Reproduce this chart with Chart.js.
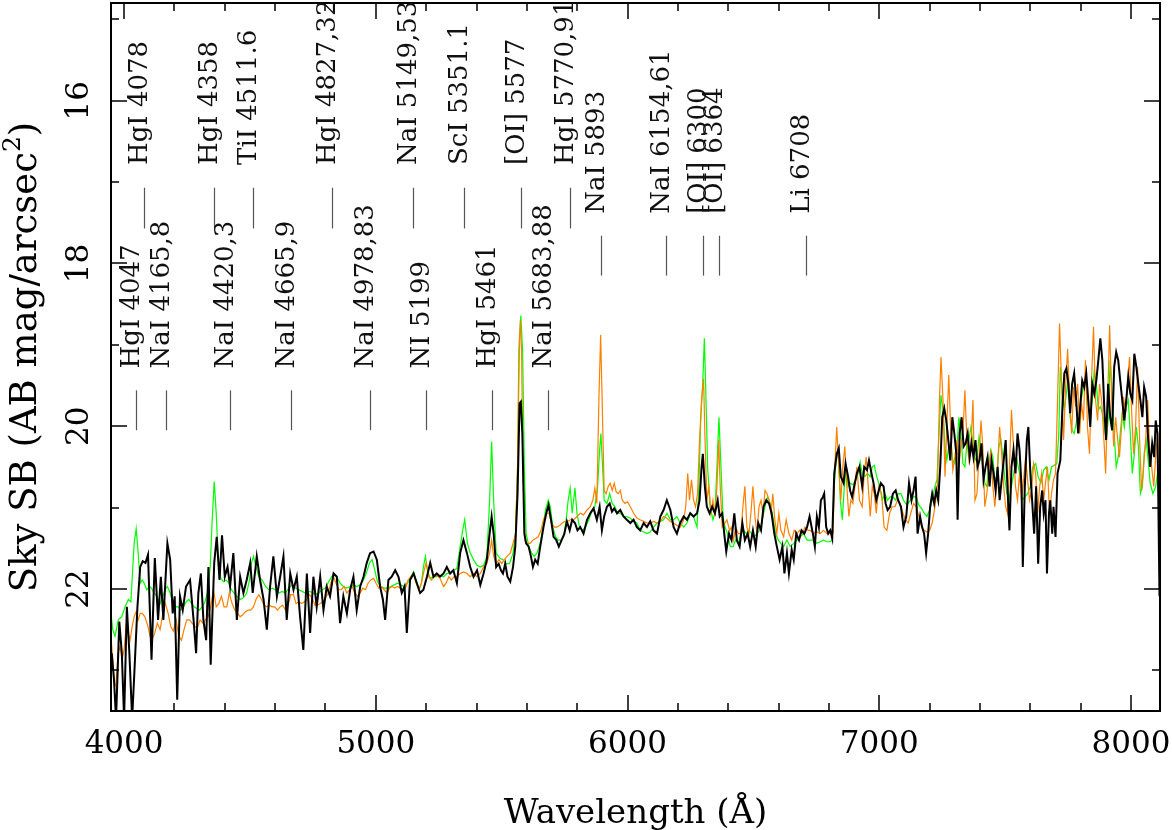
<!DOCTYPE html>
<html>
<head>
<meta charset="utf-8">
<title>Sky SB spectrum</title>
<script src="https://cdn.jsdelivr.net/npm/chart.js@4.4.1/dist/chart.umd.min.js"></script>
<style>
  html, body { margin: 0; padding: 0; background: #fff; }
  #wrap { width: 1172px; height: 830px; }
</style>
</head>
<body>
<div id="wrap"><canvas id="sky" width="1172" height="830"></canvas></div>
<script>
// ---- spectra (wavelength in A, surface brightness in AB mag/arcsec^2) ----
const blackWl = [
  3951,3960,3968,3981,3991,4000,4011,4021,4032,4042,4053,4064,4074,4085,4095,4109,4122,4135,4146,4156,
  4172,4183,4193,4201,4211,4222,4233,4246,4262,4276,4286,4295,4305,4315,4326,4335,4344,4358,4368,4379,
  4389,4400,4411,4421,4434,4448,4461,4474,4487,4501,4511,4527,4540,4554,4567,4580,4593,4607,4620,4633,
  4646,4660,4673,4686,4699,4712,4726,4739,4752,4765,4779,4792,4805,4818,4832,4845,4858,4871,4885,4898,
  4911,4924,4938,4951,4964,4977,4991,5004,5017,5028,5037,5050,5063,5077,5090,5103,5114,5123,5136,5150,
  5163,5176,5189,5203,5216,5229,5242,5255,5269,5282,5295,5308,5322,5335,5348,5362,5375,5388,5402,5415,
  5428,5441,5452,5460,5468,5478,5488,5497,5505,5514,5523,5534,5545,5554,5563,5571,5576,5582,5590,5597,
  5607,5616,5624,5633,5643,5653,5666,5677,5686,5696,5706,5717,5727,5738,5749,5759,5770,5780,5791,5801,
  5812,5825,5839,5852,5865,5878,5889,5898,5907,5918,5929,5938,5947,5958,5971,5984,5997,6011,6024,6037,
  6050,6064,6077,6090,6103,6117,6130,6143,6156,6170,6183,6196,6209,6223,6236,6249,6262,6276,6286,6294,
  6299,6307,6315,6326,6336,6347,6358,6366,6376,6384,6392,6403,6413,6424,6434,6445,6456,6466,6477,6487,
  6498,6509,6519,6530,6540,6551,6562,6572,6583,6593,6604,6615,6623,6633,6641,6652,6660,6670,6681,6691,
  6702,6713,6723,6736,6744,6752,6760,6768,6776,6781,6789,6797,6805,6813,6821,6831,6839,6847,6858,6866,
  6876,6884,6892,6900,6911,6921,6932,6940,6951,6959,6969,6977,6988,6998,7006,7017,7025,7033,7043,7054,
  7065,7075,7086,7096,7107,7118,7128,7136,7144,7152,7162,7170,7178,7186,7194,7202,7210,7218,7226,7234,
  7242,7250,7258,7266,7274,7282,7290,7298,7306,7311,7319,7327,7335,7343,7351,7359,7366,7374,7382,7390,
  7398,7406,7414,7422,7430,7438,7446,7454,7462,7470,7478,7486,7494,7502,7509,7517,7525,7533,7541,7549,
  7557,7565,7570,7578,7586,7592,7600,7607,7615,7623,7631,7639,7647,7653,7660,7666,7674,7679,7687,7692,
  7700,7708,7719,7727,7735,7743,7751,7758,7766,7774,7782,7790,7798,7806,7814,7822,7830,7838,7846,7854,
  7862,7870,7878,7886,7894,7901,7909,7917,7925,7933,7941,7949,7957,7965,7973,7981,7989,7997,8005,8013,
  8021,8029,8037,8045,8052,8060,8068,8076,8084,8092,8098,8105,8113
];
const blackMag = [
  22.79,23.12,23.60,22.40,22.79,23.60,22.22,22.79,23.60,22.95,22.22,21.73,21.66,21.68,21.58,22.87,21.62,22.38,21.85,22.38,
  21.44,21.64,22.30,22.09,23.36,22.09,22.26,21.97,21.89,22.38,22.79,22.05,21.81,22.38,22.63,21.73,22.93,21.68,21.36,21.89,
  21.34,21.85,21.73,21.97,21.56,22.38,21.85,22.05,21.89,21.68,22.05,21.60,21.89,22.13,22.50,21.97,21.60,22.09,21.85,21.60,
  22.38,21.81,22.01,21.85,22.34,22.75,21.81,22.54,21.85,22.22,21.85,22.26,21.97,22.09,21.81,21.85,22.42,22.09,22.30,22.01,
  21.85,22.26,21.97,21.85,21.68,21.56,21.54,21.64,21.97,22.13,22.38,21.89,21.85,21.77,21.85,22.05,21.97,22.54,21.89,21.81,
  21.93,22.05,22.01,21.85,21.68,21.85,21.81,21.85,21.81,21.73,21.81,21.77,21.93,21.56,21.40,21.56,21.73,21.85,21.77,21.95,
  21.81,21.64,21.32,21.11,21.32,21.73,21.69,21.77,21.81,21.69,21.85,21.91,21.73,21.48,20.83,19.72,19.70,20.09,21.32,21.44,
  21.48,21.60,21.73,21.64,21.69,21.48,21.24,21.07,20.97,21.15,21.36,21.40,21.48,21.40,21.32,21.17,21.28,21.15,21.19,21.28,
  21.24,21.32,21.15,21.07,21.01,21.15,20.99,21.28,21.11,20.99,20.95,21.05,21.01,21.07,21.03,21.11,21.15,21.19,21.15,21.24,
  21.28,21.19,21.24,21.17,21.28,21.32,21.11,21.03,20.91,21.03,21.24,21.32,21.19,21.11,21.15,21.07,21.11,21.07,20.91,20.50,
  20.34,20.74,20.99,21.07,20.99,21.07,20.91,21.11,21.07,21.32,21.54,21.32,21.40,21.07,21.40,21.48,21.19,21.40,21.32,21.48,
  21.28,21.48,21.19,21.28,20.99,20.91,20.95,21.07,21.32,21.48,21.64,21.48,21.81,21.56,21.81,21.52,21.64,21.32,21.40,21.28,
  21.32,21.24,21.11,21.32,21.48,21.11,21.24,20.91,20.87,20.83,21.24,21.32,21.28,21.38,20.58,20.34,20.27,20.62,20.70,20.46,
  20.62,20.79,20.87,20.74,20.58,20.50,20.74,20.50,20.54,20.42,20.58,20.70,20.91,20.79,20.70,20.74,20.95,21.03,20.99,20.83,
  20.79,20.91,20.99,21.24,21.11,20.70,20.91,20.79,20.62,21.32,21.11,21.24,21.32,21.56,21.32,20.99,20.83,20.95,20.79,20.91,
  20.50,19.89,19.78,19.93,20.17,20.42,19.89,20.09,20.34,21.15,20.09,19.89,20.25,20.21,20.09,20.38,20.21,20.38,20.17,20.50,
  20.42,20.21,20.66,20.50,20.38,20.74,20.42,20.58,20.79,20.50,20.91,20.66,20.42,20.17,20.74,21.28,20.50,20.29,20.58,20.09,
  20.29,20.74,21.73,20.74,20.17,20.01,20.58,20.91,21.32,20.74,21.69,20.99,20.79,21.07,20.91,21.81,21.07,20.91,21.32,20.99,
  21.36,20.58,20.42,19.80,19.35,19.29,19.48,19.84,19.48,19.35,19.68,20.09,19.76,19.44,19.52,19.35,19.68,20.01,19.48,19.60,
  19.44,19.19,18.92,19.19,19.80,20.17,19.48,19.89,20.05,19.27,19.09,19.19,19.44,19.68,19.93,19.68,19.39,19.60,19.68,19.11,
  19.27,19.48,19.68,19.89,19.52,19.64,20.17,20.50,20.21,20.38,19.93,20.09,22.09
];

const greenWl = [
  3948,3955,3964,3977,3991,4004,4017,4027,4034,4040,4048,4056,4064,4072,4080,4090,4101,4109,4119,4130,
  4143,4154,4163,4172,4183,4193,4204,4215,4225,4236,4246,4257,4268,4278,4289,4299,4310,4321,4331,4342,
  4350,4358,4366,4374,4384,4395,4405,4416,4426,4437,4448,4461,4474,4487,4498,4506,4514,4524,4535,4548,
  4562,4575,4588,4601,4615,4628,4641,4654,4667,4681,4694,4707,4720,4734,4747,4760,4773,4787,4800,4813,
  4824,4834,4845,4858,4871,4885,4898,4911,4924,4938,4951,4964,4975,4985,4996,5006,5020,5033,5046,5059,
  5073,5086,5099,5112,5126,5139,5150,5160,5171,5181,5189,5197,5205,5216,5229,5242,5255,5269,5282,5295,
  5308,5322,5335,5345,5353,5364,5375,5388,5402,5415,5428,5441,5452,5460,5468,5478,5492,5505,5518,5531,
  5545,5555,5563,5570,5576,5583,5590,5597,5608,5619,5629,5640,5653,5664,5674,5685,5693,5703,5714,5725,
  5735,5746,5756,5764,5772,5780,5791,5799,5809,5820,5833,5846,5860,5870,5881,5889,5894,5899,5907,5918,
  5929,5939,5950,5960,5971,5984,5997,6011,6024,6037,6050,6064,6077,6090,6103,6117,6130,6143,6156,6170,
  6183,6196,6209,6223,6236,6249,6262,6276,6283,6291,6299,6305,6310,6318,6328,6339,6347,6355,6363,6371,
  6379,6387,6397,6408,6419,6429,6440,6450,6461,6472,6482,6493,6503,6514,6525,6535,6546,6556,6567,6577,
  6588,6599,6609,6620,6633,6646,6660,6673,6686,6699,6713,6726,6739,6752,6765,6778,6792,6805,6813,6821,
  6829,6837,6845,6853,6861,6869,6876,6884,6895,6906,6916,6924,6932,6943,6953,6964,6972,6980,6990,7001,
  7012,7022,7033,7043,7054,7065,7075,7086,7096,7110,7123,7136,7147,7157,7168,7178,7189,7200,7210,7221,
  7229,7237,7245,7253,7261,7268,7276,7284,7292,7300,7308,7316,7324,7332,7340,7348,7356,7364,7372,7380,
  7388,7396,7404,7411,7419,7427,7435,7443,7451,7459,7467,7475,7483,7491,7499,7507,7515,7525,7536,7547,
  7557,7568,7578,7589,7600,7610,7621,7631,7642,7653,7663,7674,7684,7695,7705,7713,7719,7727,7735,7743,
  7751,7758,7766,7774,7782,7790,7798,7806,7814,7822,7830,7838,7846,7854,7862,7870,7878,7886,7894,7901,
  7909,7917,7925,7933,7941,7949,7957,7965,7973,7981,7989,7997,8005,8013,8021,8029,8037,8045,8052,8060,
  8068,8076,8087,8098,8105,8113
];
const greenMag = [
  22.30,22.50,22.58,22.38,22.34,22.22,22.13,22.16,21.77,21.44,21.26,21.56,21.93,21.89,21.93,22.01,21.97,21.99,22.05,22.09,
  22.18,22.09,22.01,21.97,22.05,22.16,22.22,22.22,22.26,22.22,22.16,22.13,22.18,22.22,22.24,22.26,22.22,22.16,22.05,21.73,
  21.15,20.68,21.07,21.64,21.87,21.91,21.89,21.93,22.01,22.05,22.09,22.13,22.11,22.05,21.89,21.68,21.60,21.73,21.85,21.89,
  21.97,22.01,21.99,22.01,22.05,22.03,22.05,21.99,21.95,21.99,22.01,22.03,22.05,22.03,22.04,22.07,22.05,22.01,21.99,21.91,
  21.85,21.81,21.85,21.93,21.97,21.99,21.97,21.95,21.97,21.95,21.89,21.79,21.68,21.64,21.77,21.91,21.97,21.99,21.99,21.97,
  21.95,21.93,21.95,21.97,21.93,21.85,21.79,21.89,22.01,21.93,21.73,21.60,21.77,21.87,21.85,21.85,21.83,21.85,21.81,21.81,
  21.77,21.75,21.48,21.28,21.15,21.44,21.56,21.64,21.71,21.73,21.71,21.60,20.91,20.19,20.91,21.56,21.62,21.64,21.69,21.69,
  21.56,21.32,20.50,19.07,18.64,19.07,20.50,21.32,21.48,21.56,21.60,21.56,21.44,21.24,21.03,20.91,20.99,21.24,21.36,21.40,
  21.40,21.36,21.15,20.91,20.76,21.07,20.76,21.07,21.24,21.28,21.24,21.15,21.03,20.99,20.74,20.29,20.09,20.38,20.91,20.95,
  20.83,20.95,20.99,21.07,21.07,21.11,21.11,21.13,21.17,21.19,21.28,21.30,21.32,21.30,21.24,21.19,21.17,21.15,21.07,21.15,
  21.15,21.11,21.19,21.24,21.19,21.07,21.11,21.24,20.74,19.89,19.44,18.92,19.48,20.50,20.99,21.15,21.07,20.50,19.89,20.50,
  21.11,21.24,21.32,21.48,21.48,21.40,21.44,21.32,21.28,21.32,21.28,21.32,21.36,21.32,21.28,21.15,20.99,20.87,20.95,21.11,
  21.32,21.40,21.44,21.48,21.40,21.48,21.44,21.40,21.36,21.32,21.40,21.40,21.40,21.44,21.42,21.40,21.42,21.42,21.40,20.74,
  20.38,20.34,20.91,21.15,20.74,20.50,20.74,20.70,20.72,20.66,20.58,20.44,20.58,20.62,20.58,20.62,20.50,20.48,20.62,20.74,
  20.91,20.83,20.91,20.87,20.87,20.91,20.83,20.83,20.91,20.97,20.91,20.87,20.87,20.97,21.01,21.07,21.11,21.03,20.91,20.74,
  20.66,20.09,19.62,19.80,20.25,20.42,20.25,20.21,20.42,20.46,20.29,19.89,20.09,20.46,20.50,20.21,20.17,20.01,20.21,20.42,
  20.38,20.13,20.25,20.54,20.70,20.74,20.50,20.29,20.38,20.66,20.62,20.25,20.17,20.38,20.66,20.83,20.91,20.74,20.54,20.42,
  20.58,20.91,20.87,20.83,20.74,20.50,20.46,20.62,20.70,20.54,20.50,20.66,20.50,20.48,20.46,20.09,19.27,19.60,19.80,19.60,
  19.39,19.89,20.05,20.09,19.97,19.84,19.76,19.60,19.48,19.39,19.76,19.84,19.68,19.31,19.48,19.80,19.76,19.84,20.01,20.17,
  19.93,19.19,19.60,20.09,20.50,20.38,20.09,19.84,20.01,19.76,19.68,20.09,20.58,20.34,20.01,20.25,20.83,20.74,20.34,20.17,
  20.42,20.70,20.83,20.74,20.58,20.95
];

const orangeWl = [
  3948,3955,3963,3968,3976,3984,3992,4000,4008,4016,4024,4032,4040,4048,4056,4064,4072,4082,4093,4103,
  4111,4122,4132,4143,4154,4164,4175,4185,4196,4207,4217,4228,4238,4249,4260,4270,4281,4291,4302,4313,
  4323,4334,4344,4355,4366,4376,4387,4397,4408,4418,4429,4440,4450,4461,4471,4482,4493,4503,4514,4524,
  4535,4546,4556,4567,4577,4588,4599,4609,4620,4630,4641,4652,4662,4673,4683,4694,4705,4715,4726,4736,
  4747,4758,4768,4779,4789,4800,4811,4821,4832,4842,4853,4863,4874,4885,4895,4906,4916,4927,4938,4948,
  4959,4969,4980,4991,5001,5012,5022,5033,5044,5054,5065,5075,5086,5097,5107,5118,5128,5139,5150,5160,
  5171,5181,5192,5200,5210,5221,5232,5242,5255,5269,5279,5290,5300,5311,5322,5335,5348,5362,5375,5388,
  5402,5415,5428,5441,5452,5460,5468,5478,5489,5500,5510,5521,5534,5545,5555,5563,5568,5574,5579,5584,
  5592,5603,5613,5624,5635,5645,5656,5666,5677,5688,5698,5709,5719,5730,5741,5751,5762,5772,5786,5799,
  5812,5825,5839,5852,5862,5870,5878,5886,5893,5899,5907,5915,5923,5931,5939,5947,5955,5963,5971,5979,
  5990,6000,6011,6024,6037,6050,6064,6077,6090,6103,6117,6130,6143,6156,6170,6183,6196,6209,6223,6231,
  6239,6246,6254,6262,6270,6278,6286,6294,6302,6307,6315,6323,6331,6339,6347,6355,6362,6368,6376,6387,
  6395,6405,6413,6421,6429,6440,6450,6458,6466,6474,6482,6490,6498,6506,6514,6522,6530,6538,6546,6554,
  6562,6570,6577,6585,6593,6601,6609,6620,6630,6641,6652,6662,6673,6683,6694,6705,6718,6726,6739,6752,
  6765,6778,6792,6805,6816,6823,6831,6839,6847,6855,6863,6871,6879,6887,6895,6903,6911,6921,6932,6940,
  6948,6956,6964,6972,6980,6988,6998,7009,7019,7030,7041,7051,7062,7072,7083,7094,7104,7115,7125,7136,
  7147,7157,7168,7178,7189,7200,7210,7221,7231,7239,7245,7253,7261,7268,7276,7284,7292,7300,7308,7316,
  7324,7332,7340,7348,7356,7364,7372,7380,7388,7396,7404,7411,7419,7427,7435,7443,7451,7459,7470,7478,
  7486,7494,7502,7509,7517,7525,7533,7541,7549,7557,7565,7573,7581,7589,7597,7605,7613,7621,7629,7637,
  7645,7653,7660,7668,7676,7684,7692,7700,7708,7716,7724,7732,7740,7748,7756,7764,7772,7780,7788,7796,
  7803,7811,7819,7827,7835,7843,7851,7859,7867,7875,7883,7891,7899,7907,7915,7923,7931,7939,7947,7954,
  7962,7970,7978,7986,7994,8002,8010,8018,8026,8034,8042,8050,8058,8066,8074,8082,8090,8098,8105,8113
];
const orangeMag = [
  22.58,22.87,23.20,23.16,22.79,22.71,22.87,22.75,22.46,22.54,22.63,22.46,22.34,22.28,22.38,22.30,22.30,22.34,22.44,22.58,
  22.63,22.54,22.42,22.50,22.30,22.18,22.30,22.46,22.52,22.38,22.58,22.63,22.50,22.38,22.38,22.42,22.46,22.48,22.38,22.42,
  22.38,22.34,22.22,22.01,22.22,22.18,22.09,22.22,22.22,22.05,22.18,22.26,22.30,22.34,22.32,22.28,22.26,22.26,22.22,22.13,
  22.07,22.13,22.20,22.22,22.20,22.22,22.22,22.26,22.22,22.20,22.26,22.20,22.07,22.07,22.18,22.16,22.18,22.16,22.13,22.07,
  22.11,22.20,22.20,22.18,22.16,22.11,22.05,21.93,21.85,21.93,22.01,22.01,21.97,22.05,22.01,21.97,22.05,22.09,22.05,21.99,
  22.01,21.93,21.89,21.87,21.93,21.99,21.97,22.01,22.05,21.99,21.97,21.99,21.97,21.99,22.01,21.99,21.89,21.85,21.81,21.93,
  22.01,21.93,21.77,21.68,21.85,21.89,21.85,21.83,21.87,21.97,21.93,21.85,21.89,21.85,21.85,21.81,21.79,21.81,21.85,21.81,
  21.85,21.81,21.73,21.69,21.56,21.40,21.60,21.69,21.64,21.69,21.64,21.60,21.56,21.44,21.32,20.50,19.07,18.70,19.07,20.50,
  21.40,21.44,21.44,21.40,21.38,21.36,21.28,21.15,21.07,21.07,21.19,21.24,21.24,21.22,21.19,21.17,21.17,21.15,21.15,21.11,
  21.07,21.09,21.03,20.99,20.91,20.76,20.95,19.68,18.88,19.68,20.79,20.83,20.74,20.70,20.79,20.70,20.81,20.83,20.79,20.91,
  20.95,20.93,20.99,21.07,21.13,21.15,21.17,21.19,21.19,21.17,21.19,21.17,21.11,21.13,21.17,21.19,21.22,21.24,21.15,20.99,
  20.58,20.91,20.66,20.91,20.99,20.83,20.17,19.68,19.42,20.09,20.91,20.74,21.07,20.91,21.11,20.74,20.17,20.74,21.24,21.19,
  21.15,21.28,21.24,21.40,21.24,21.32,21.32,20.99,20.74,21.24,21.32,21.07,20.74,21.11,21.32,20.99,20.91,21.07,20.79,20.83,
  20.91,21.07,20.83,21.15,21.32,21.07,21.28,21.36,21.15,21.32,21.40,21.28,21.32,21.28,21.32,21.24,21.28,21.28,21.32,21.30,
  21.32,21.28,21.32,21.32,21.32,20.50,20.01,20.50,20.91,20.50,20.25,20.74,21.11,20.91,20.95,20.74,20.50,20.91,20.99,20.58,
  20.38,20.74,21.11,20.74,20.83,21.07,20.74,20.83,21.24,21.28,21.07,20.99,20.99,20.91,20.95,21.07,21.15,21.19,21.07,20.95,
  20.99,21.11,21.24,21.28,21.30,21.28,21.19,20.99,20.74,19.68,19.15,19.68,20.62,20.01,19.37,20.09,20.54,20.38,20.17,20.50,
  20.25,20.09,19.56,20.17,20.42,20.25,19.68,20.91,20.83,20.38,19.93,20.25,20.99,20.83,20.58,20.29,20.74,20.99,20.50,20.01,
  20.34,20.74,20.99,21.07,20.50,19.80,20.25,20.74,20.91,20.58,20.91,20.66,20.38,20.66,20.91,20.79,20.46,20.58,21.07,20.74,
  20.58,20.91,20.70,20.50,21.07,20.83,20.66,20.58,19.68,18.74,19.48,20.17,19.52,19.05,19.68,20.09,19.52,19.76,19.48,20.09,
  19.72,19.93,19.19,20.01,20.34,19.44,18.78,19.68,19.93,19.48,19.68,20.09,20.58,19.68,18.76,19.68,20.25,19.89,20.17,20.38,
  20.01,19.64,19.84,19.48,19.15,19.80,20.34,20.01,19.27,20.17,20.79,20.50,20.17,19.68,20.29,20.50,20.74,20.38,20.09,20.95
];

// ---- axes ----
const xMin = 3948, xMax = 8115;
const yMin = 14.8, yMax = 23.5;          // magnitudes, drawn with faint at the bottom
const xTickValues = [4000, 5000, 6000, 7000, 8000];
const yTickValues = [16, 18, 20, 22];
const xMinorStep = 200, yMinorStep = 1;
const xTitle = 'Wavelength (Å)';
const yTitle = 'Sky SB (AB mag/arcsec';

// ---- sky line identifications: name, wavelength, row ----
const lineNames = [
  'HgI 4078', 'HgI 4358', 'TiI 4511.6', 'HgI 4827,32', 'NaI 5149,53', 'ScI 5351.1', '[OI] 5577', 'HgI 5770,91',
  'NaI 5893', 'NaI 6154,61', '[OI] 6300', '[OI] 6364', 'Li 6708',
  'HgI 4047', 'NaI 4165,8', 'NaI 4420,3', 'NaI 4665,9', 'NaI 4978,83', 'NI 5199', 'HgI 5461', 'NaI 5683,88'
];
const lineWl = [
  4078, 4358, 4511.6, 4827, 5149, 5351.1, 5577, 5770,
  5893, 6154, 6300, 6364, 6708,
  4047, 4165, 4420, 4665, 4978, 5199, 5461, 5683
];
const lineRow = [0,0,0,0,0,0,0,0, 1,1,1,1,1, 2,2,2,2,2,2,2,2];
// per row: where the text starts and where the marker runs (mag units)
const rowTextMag = [16.79, 17.39, 19.29];
const rowTickTop = [17.07, 17.66, 19.56];
const rowTickBottom = [17.57, 18.15, 20.05];

const toPoints = (wl, mag) => wl.map((w, i) => ({ x: w, y: mag[i] }));

const SERIF = '"DejaVu Serif", "Liberation Serif", serif';

// PGPLOT-style box: inward ticks on all four sides, rotated y labels, line ids
const pgFrame = {
  id: 'pgFrame',
  afterDatasetsDraw(chart) {
    const { ctx, chartArea: a } = chart;
    const sx = chart.scales.x, sy = chart.scales.y;
    const majorLen = 16, minorLen = 8;
    ctx.save();
    ctx.strokeStyle = '#000';
    ctx.fillStyle = '#000';

    ctx.lineWidth = 2;
    ctx.strokeRect(a.left, a.top, a.right - a.left, a.bottom - a.top);

    ctx.lineWidth = 1.5;
    ctx.beginPath();
    for (let v = Math.ceil(xMin / xMinorStep) * xMinorStep; v <= xMax; v += xMinorStep) {
      const px = Math.round(sx.getPixelForValue(v));
      const len = xTickValues.includes(v) ? majorLen : minorLen;
      ctx.moveTo(px, a.bottom); ctx.lineTo(px, a.bottom - len);
      ctx.moveTo(px, a.top); ctx.lineTo(px, a.top + len);
    }
    for (let v = Math.ceil(yMin); v <= yMax; v += yMinorStep) {
      const py = Math.round(sy.getPixelForValue(v));
      const len = yTickValues.includes(v) ? majorLen : minorLen;
      ctx.moveTo(a.left, py); ctx.lineTo(a.left + len, py);
      ctx.moveTo(a.right, py); ctx.lineTo(a.right - len, py);
    }
    ctx.stroke();

    // tick labels
    ctx.font = '31px ' + SERIF;
    ctx.textAlign = 'center';
    ctx.textBaseline = 'alphabetic';
    xTickValues.forEach(v => ctx.fillText(String(v), sx.getPixelForValue(v), a.bottom + 42));
    yTickValues.forEach(v => {
      ctx.save();
      ctx.translate(a.left - 23, sy.getPixelForValue(v));
      ctx.rotate(-Math.PI / 2);
      ctx.fillText(String(v), 0, 0);
      ctx.restore();
    });

    // axis titles
    ctx.font = '34px ' + SERIF;
    ctx.fillText(xTitle, (a.left + a.right) / 2, 823);

    const mainFont = '37px ' + SERIF, supFont = '25px ' + SERIF;
    ctx.save();
    ctx.translate(36, (a.top + a.bottom) / 2);
    ctx.rotate(-Math.PI / 2);
    ctx.textAlign = 'left';
    ctx.font = mainFont;
    const w1 = ctx.measureText(yTitle).width;
    const w3 = ctx.measureText(')').width;
    ctx.font = supFont;
    const w2 = ctx.measureText('2').width;
    const start = -(w1 + w2 + w3) / 2;
    ctx.font = mainFont;
    ctx.fillText(yTitle, start, 0);
    ctx.fillText(')', start + w1 + w2, 0);
    ctx.font = supFont;
    ctx.fillText('2', start + w1, -16);
    ctx.restore();

    // line identifications
    ctx.font = '26px ' + SERIF;
    ctx.textAlign = 'left';
    ctx.fillStyle = '#111';
    ctx.strokeStyle = '#555';
    ctx.lineWidth = 1.2;
    lineNames.forEach((name, i) => {
      const px = Math.round(sx.getPixelForValue(lineWl[i])) + 0.5;
      const r = lineRow[i];
      ctx.beginPath();
      ctx.moveTo(px, sy.getPixelForValue(rowTickTop[r]));
      ctx.lineTo(px, sy.getPixelForValue(rowTickBottom[r]));
      ctx.stroke();
      ctx.save();
      ctx.translate(px + 2, sy.getPixelForValue(rowTextMag[r]));
      ctx.rotate(-Math.PI / 2);
      ctx.fillText(name, 0, 0);
      ctx.restore();
    });
    ctx.restore();
  }
};

new Chart(document.getElementById('sky'), {
  type: 'line',
  data: {
    datasets: [
      { label: 'black', data: toPoints(blackWl, blackMag), borderColor: '#000000', borderWidth: 2 },
      { label: 'orange', data: toPoints(orangeWl, orangeMag), borderColor: '#ff8000', borderWidth: 1.2 },
      { label: 'green', data: toPoints(greenWl, greenMag), borderColor: '#00ff00', borderWidth: 1.2 }
    ]
  },
  options: {
    responsive: false,
    animation: false,
    devicePixelRatio: 1,
    layout: { padding: { left: 111, right: 12, top: 3, bottom: 119 } },
    elements: { point: { radius: 0 }, line: { tension: 0 } },
    plugins: { legend: { display: false }, tooltip: { enabled: false } },
    scales: {
      x: { type: 'linear', display: false, min: xMin, max: xMax },
      y: { type: 'linear', display: false, reverse: true, min: yMin, max: yMax }
    }
  },
  plugins: [pgFrame]
});
</script>
</body>
</html>
